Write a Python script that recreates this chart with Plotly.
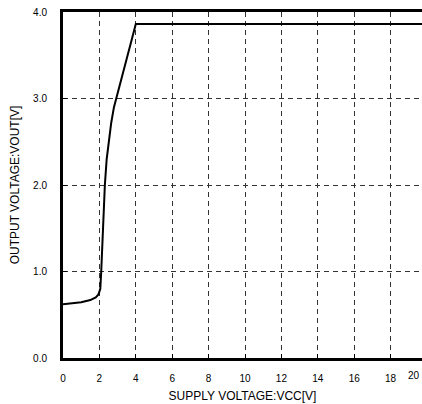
import plotly.graph_objects as go

vcc = [0, 0.5, 1.0, 1.5, 1.8, 1.95, 2.05, 2.1, 2.15, 2.2, 2.3, 2.4, 2.5, 2.65, 2.8, 3.0, 3.25, 3.5, 3.8, 4.0, 20]
vout = [0.62, 0.63, 0.645, 0.67, 0.70, 0.735, 0.80, 1.0, 1.3, 1.6, 2.0, 2.3, 2.5, 2.72, 2.9, 3.07, 3.27, 3.46, 3.7, 3.86, 3.86]

x_ticks = [0, 2, 4, 6, 8, 10, 12, 14, 16, 18, 20]
y_ticks = [0.0, 1.0, 2.0, 3.0, 4.0]
y_tick_text = ["0.0", "1.0", "2.0", "3.0", "4.0"]

X_MAX_VISIBLE = 19.725  # right part of the chart is cut off by the window

fig = go.Figure()
fig.add_trace(go.Scatter(x=vcc, y=vout, mode="lines",
                         line=dict(color="black", width=2),
                         showlegend=False))

font = dict(family="Arial, Liberation Sans, sans-serif", color="black")
fig.update_layout(
    width=422, height=404,
    margin=dict(l=63, r=0, t=12, b=46),
    paper_bgcolor="white", plot_bgcolor="white",
    font=font,
)
fig.update_xaxes(
    range=[0, X_MAX_VISIBLE], tickvals=x_ticks, ticktext=[str(t) for t in x_ticks],
    showline=True, linecolor="black", linewidth=3, mirror=True,
    ticks="inside", ticklen=4, tickcolor="black", tickwidth=1,
    showgrid=True, gridcolor="#333", gridwidth=1, griddash="5px,4px",
    zeroline=False, tickfont=dict(size=10), ticklabelstandoff=9,
    title=dict(text="SUPPLY VOLTAGE:VCC[V]", font=dict(size=12), standoff=9),
)
fig.update_yaxes(
    range=[0, 4], tickvals=y_ticks, ticktext=y_tick_text,
    showline=True, linecolor="black", linewidth=3, mirror=False,
    ticks="inside", ticklen=4, tickcolor="black", tickwidth=1,
    showgrid=True, gridcolor="#333", gridwidth=1, griddash="5px,4px",
    zeroline=False, tickfont=dict(size=10), ticklabelstandoff=11,
    title=dict(text="OUTPUT VOLTAGE:VOUT[V]", font=dict(size=12), standoff=11),
)
# tick label "20" sits at the window's right edge
fig.add_annotation(x=1, xref="paper", xanchor="right", y=0, yref="paper",
                   text=str(x_ticks[-1]), showarrow=False, yanchor="top",
                   yshift=-10, font=dict(size=10))
fig.write_html("out.html")
